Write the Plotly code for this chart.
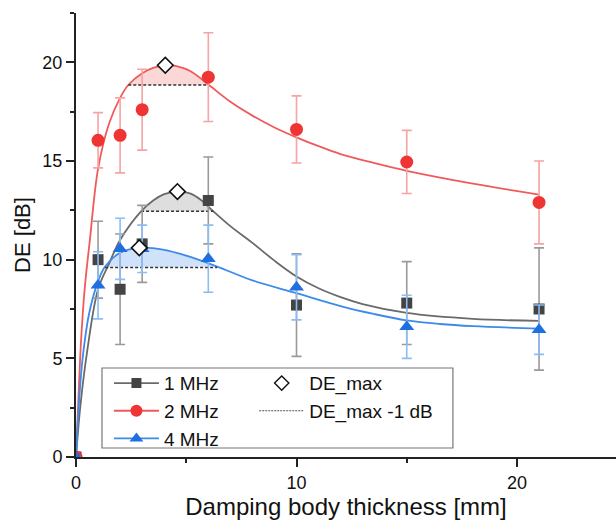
import plotly.graph_objects as go

# ---------------- data ----------------
thickness = [1, 2, 3, 6, 10, 15, 21]

de_1mhz = [10.0, 8.5, 10.8, 13.0, 7.7, 7.8, 7.5]
err_1mhz = [1.95, 2.8, 1.95, 2.2, 2.6, 2.1, 3.1]

de_2mhz = [16.05, 16.3, 17.6, 19.25, 16.6, 14.95, 12.9]
err_2mhz = [1.4, 1.9, 2.05, 2.25, 1.7, 1.6, 2.1]

de_4mhz = [8.7, 10.55, 10.55, 10.05, 8.6, 6.6, 6.45]
err_4mhz = [1.7, 1.55, 1.2, 1.7, 1.65, 1.6, 1.25]

# fitted curves
fit1_x = [0, 0.2, 0.5, 1.0, 1.5, 2.0, 2.95, 3.5, 4.0, 4.6, 5.2, 5.7, 6.23, 7.0, 8.0, 9.0, 10.0, 11.0, 12.0, 13.0, 15.0, 18.0, 21.0]
fit1_y = [0, 2.6, 5.3, 8.5, 9.8, 11.0, 12.45, 13.0, 13.32, 13.45, 13.35, 13.0, 12.45, 11.7, 10.85, 9.95, 9.15, 8.55, 8.1, 7.75, 7.3, 7.0, 6.9]

fit2_x = [0, 0.1, 0.23, 0.4, 0.63, 1.0, 1.5, 2.0, 2.37, 3.0, 3.5, 4.05, 4.6, 5.2, 6.03, 7.0, 8.0, 9.0, 10.0, 11.0, 12.0, 13.5, 15.0, 18.0, 21.0]
fit2_y = [0, 2.7, 5.9, 8.6, 11.0, 14.6, 16.9, 18.2, 18.85, 19.45, 19.72, 19.85, 19.8, 19.55, 18.85, 18.0, 17.3, 16.7, 16.2, 15.75, 15.35, 14.9, 14.5, 13.85, 13.3]

fit4_x = [0, 0.15, 0.3, 0.6, 1.0, 1.32, 2.0, 2.87, 4.0, 5.0, 6.4, 8.0, 10.0, 12.0, 13.5, 15.0, 16.5, 18.0, 21.0]
fit4_y = [0, 3.0, 5.0, 7.3, 8.9, 9.65, 10.35, 10.6, 10.5, 10.2, 9.65, 8.95, 8.3, 7.65, 7.25, 6.92, 6.74, 6.63, 6.5]

# DE_max points
demax_x = [4.6, 4.05, 2.87]
demax_y = [13.45, 19.85, 10.6]

# DE_max - 1 dB plateau ranges
plateau_left = [2.95, 2.37, 1.32]
plateau_right = [6.23, 6.03, 6.4]

# ---------------- styles ----------------
names = ["1 MHz", "2 MHz", "4 MHz"]
pt_colors = ["#444444", "#ef3434", "#1f6fe0"]
fit_colors = ["#6a6a6a", "#f05a5a", "#3d8ae8"]
err_colors = ["#9a9a9a", "#f5a3a3", "#8dbcf2"]
fill_colors = ["rgba(160,160,160,0.35)", "rgba(240,110,110,0.28)", "rgba(110,165,240,0.32)"]
symbols = ["square", "circle", "triangle-up"]
msizes = [11, 13, 13]

series_y = [de_1mhz, de_2mhz, de_4mhz]
series_err = [err_1mhz, err_2mhz, err_4mhz]
fits = [(fit1_x, fit1_y), (fit2_x, fit2_y), (fit4_x, fit4_y)]

fig = go.Figure()

# shaded plateau regions
for i in range(3):
    fx, fy = fits[i]
    lvl = demax_y[i] - 1
    fig.add_trace(go.Scatter(x=[plateau_left[i], plateau_right[i]], y=[lvl, lvl],
                             mode="lines", line=dict(width=0), showlegend=False,
                             hoverinfo="skip"))
    seg = [(x, y) for x, y in zip(fx, fy) if plateau_left[i] <= x <= plateau_right[i]]
    fig.add_trace(go.Scatter(x=[p[0] for p in seg][::-1], y=[p[1] for p in seg][::-1],
                             mode="lines", line=dict(width=0, shape="spline"),
                             fill="tonexty", fillcolor=fill_colors[i],
                             showlegend=False, hoverinfo="skip"))

# fitted curves
for i in range(3):
    fx, fy = fits[i]
    fig.add_trace(go.Scatter(x=fx, y=fy, mode="lines",
                             line=dict(color=fit_colors[i], width=1.8, shape="spline", smoothing=1),
                             showlegend=False, hoverinfo="skip"))

# dashed DE_max - 1 dB lines
for i in range(3):
    lvl = demax_y[i] - 1
    fig.add_trace(go.Scatter(x=[plateau_left[i], plateau_right[i]], y=[lvl, lvl],
                             mode="lines", line=dict(color="#333333", width=1.6, dash="3px,2px"),
                             showlegend=False, hoverinfo="skip"))

# measured data with error bars
for i in range(3):
    fig.add_trace(go.Scatter(x=[0] + thickness, y=[0] + series_y[i], mode="markers",
                             marker=dict(symbol=symbols[i], size=msizes[i], color=pt_colors[i]),
                             error_y=dict(type="data", array=[0] + series_err[i], visible=True,
                                          color=err_colors[i], thickness=1.6, width=5),
                             showlegend=False))

# DE_max markers
fig.add_trace(go.Scatter(x=demax_x, y=demax_y, mode="markers",
                         marker=dict(symbol="diamond", size=12, color="white",
                                     line=dict(color="#111111", width=1.6)),
                         showlegend=False))

# legend entries
for i in range(3):
    fig.add_trace(go.Scatter(x=[None], y=[None], mode="lines+markers", name=names[i],
                             line=dict(color=fit_colors[i], width=1.8),
                             marker=dict(symbol=symbols[i], size=msizes[i] - 1, color=pt_colors[i]),
                             legend="legend"))
fig.add_trace(go.Scatter(x=[None], y=[None], mode="markers", name="DE_max",
                         marker=dict(symbol="diamond", size=11, color="white",
                                     line=dict(color="#111111", width=1.4)),
                         legend="legend2"))
fig.add_trace(go.Scatter(x=[None], y=[None], mode="lines", name="DE_max -1 dB",
                         line=dict(color="#555555", width=1.2, dash="2px,1px"),
                         legend="legend2"))

font_family = "Liberation Sans, Arial, sans-serif"
axis_common = dict(showline=True, linewidth=2, linecolor="#222222", ticks="outside",
                   ticklen=8, tickwidth=2, tickcolor="#222222", showgrid=False,
                   zeroline=False, tickfont=dict(size=18, color="#111111"),
                   minor=dict(ticks="outside", ticklen=4, tickwidth=2, tickcolor="#222222"))

legend_common = dict(yanchor="top", xanchor="left", bgcolor="rgba(0,0,0,0)",
                     font=dict(size=19, color="#111111"), tracegroupgap=0,
                     itemwidth=45, traceorder="normal")

fig.update_layout(
    width=616, height=521,
    margin=dict(l=76, r=0, t=13, b=64),
    paper_bgcolor="white", plot_bgcolor="white",
    font=dict(family=font_family, color="#111111"),
    xaxis=dict(range=[0, 24.49], tickvals=[0, 10, 20], **axis_common,
               title=dict(text="Damping body thickness [mm]", font=dict(size=24), standoff=6)),
    yaxis=dict(range=[0, 22.5], tickvals=[0, 5, 10, 15, 20], **axis_common,
               title=dict(text="DE [dB]", font=dict(size=22), standoff=6)),
    legend=dict(x=0.061, y=0.209, **legend_common),
    legend2=dict(x=0.33, y=0.209, **legend_common),
    shapes=[dict(type="rect", xref="paper", yref="paper", x0=0.0481, x1=0.698,
                 y0=0.0203, y1=0.2005, line=dict(color="#777777", width=1.2),
                 fillcolor="white", layer="below")],
)
fig.update_xaxes(minor_dtick=5)
fig.update_yaxes(minor_dtick=2.5)

fig.write_html("out.html")
